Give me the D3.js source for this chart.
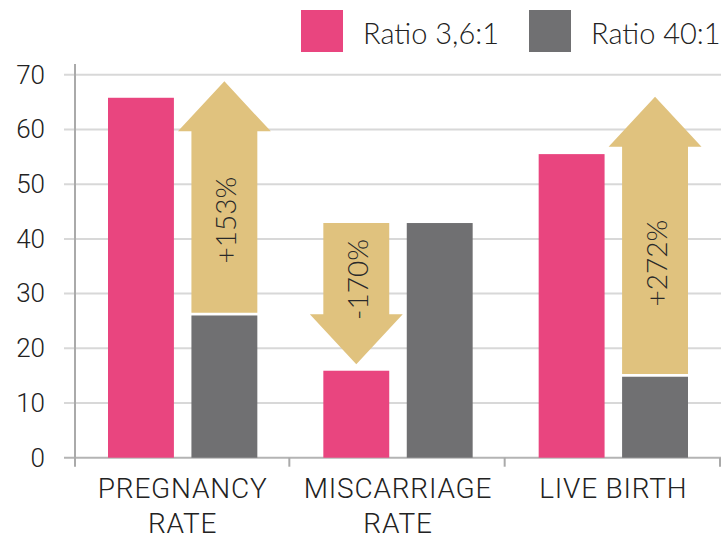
<!DOCTYPE html>
<html>
<head>
<meta charset="utf-8">
<script src="https://cdn.jsdelivr.net/npm/d3@7"></script>
<style>
  body { margin: 0; background: #fff; }
  svg { display: block; }
</style>
</head>
<body>
<script>
// Data
const categories = ["PREGNANCY RATE", "MISCARRIAGE RATE", "LIVE BIRTH"];
const categoryLines = [["PREGNANCY", "RATE"], ["MISCARRIAGE", "RATE"], ["LIVE BIRTH"]];
const series = ["Ratio 3,6:1", "Ratio 40:1"];
const ratio36 = [65.8, 15.9, 55.5];
const ratio40 = [26, 42.9, 14.8];
const yTicks = [0, 10, 20, 30, 40, 50, 60, 70];

// change arrows: drawn over one of the bars, from value -> tip value
const arrowSeries = ["Ratio 40:1", "Ratio 3,6:1", "Ratio 40:1"];
const arrowFrom = [26.5, 42.9, 15.3];
const arrowTo = [68.8, 17.1, 66];
const arrowLabels = ["+153%", "-170%", "+272%"];

const colors = { "Ratio 3,6:1": "#e9457f", "Ratio 40:1": "#707072" };
const arrowColor = "#e0c27e";

const width = 721, height = 536;
const plotLeft = 75, plotRight = 721, plotTop = 74.8, plotBottom = 457.7;

const svg = d3.select("body").append("svg")
  .attr("width", width)
  .attr("height", height);

const y = d3.scaleLinear().domain([0, 70]).range([plotBottom, plotTop]);

const x0 = d3.scaleBand().domain(categories).range([plotLeft, plotRight]);
const x1 = d3.scaleBand().domain(series)
  .range([33, x0.bandwidth() - 33])
  .paddingInner(0.21);

// gridlines
svg.append("g")
  .selectAll("line")
  .data(yTicks)
  .join("line")
  .attr("x1", 64).attr("x2", plotRight)
  .attr("y1", d => y(d)).attr("y2", d => y(d))
  .attr("stroke", d => d === 0 ? "#b4b4b4" : "#d8d8d8")
  .attr("stroke-width", 2);

// y tick labels
const yAxis = svg.append("g")
  .attr("transform", `translate(${plotLeft},0)`)
  .call(d3.axisLeft(y).tickValues(yTicks).tickSize(0).tickPadding(30));
yAxis.select(".domain").remove();
yAxis.selectAll("text")
  .attr("font-family", "Roboto, sans-serif")
  .attr("font-weight", 300)
  .attr("font-size", 26)
  .attr("fill", "#222");

// vertical axis line
svg.append("line")
  .attr("x1", plotLeft).attr("x2", plotLeft)
  .attr("y1", 64).attr("y2", plotBottom + 9)
  .attr("stroke", "#aaa").attr("stroke-width", 2);

// category boundary ticks
const bounds = categories.map(c => x0(c)).concat([x0(categories[2]) + x0.bandwidth()]);
svg.append("g")
  .selectAll("line")
  .data(bounds.slice(1))
  .join("line")
  .attr("x1", d => d - 1).attr("x2", d => d - 1)
  .attr("y1", plotBottom).attr("y2", plotBottom + 9)
  .attr("stroke", "#aaa").attr("stroke-width", 2);

// bars
const rows = categories.map((c, i) => ({ cat: c, values: [ratio36[i], ratio40[i]] }));
const groups = svg.append("g")
  .selectAll("g")
  .data(rows)
  .join("g")
  .attr("transform", d => `translate(${x0(d.cat)},0)`);

groups.selectAll("rect")
  .data(d => series.map((s, j) => ({ s, v: d.values[j] })))
  .join("rect")
  .attr("x", d => x1(d.s))
  .attr("width", x1.bandwidth())
  .attr("y", d => y(d.v))
  .attr("height", d => plotBottom - y(d.v))
  .attr("fill", d => colors[d.s]);

// arrows
const headLen = 50, headOver = 13.5;
const arrows = categories.map((c, i) => ({
  cat: c, s: arrowSeries[i], from: arrowFrom[i], to: arrowTo[i], label: arrowLabels[i]
}));

arrows.forEach(a => {
  const xl = x0(a.cat) + x1(a.s);
  const xr = xl + x1.bandwidth();
  const xc = (xl + xr) / 2;
  const y0 = y(a.from), yt = y(a.to);
  const dir = yt < y0 ? 1 : -1; // 1 = up
  const yb = yt + dir * headLen;
  const path = d3.path();
  path.moveTo(xl, y0);
  path.lineTo(xl, yb);
  path.lineTo(xl - headOver, yb);
  path.lineTo(xc, yt);
  path.lineTo(xr + headOver, yb);
  path.lineTo(xr, yb);
  path.lineTo(xr, y0);
  path.closePath();
  svg.append("path").attr("d", path.toString()).attr("fill", arrowColor);

  const ly = y0 + (yt - y0) * 0.4;
  svg.append("text")
    .attr("transform", `translate(${xc + 1},${ly}) rotate(-90)`)
    .attr("text-anchor", "middle")
    .attr("dominant-baseline", "central")
    .attr("font-family", "Lato, sans-serif")
    .attr("font-weight", 300)
    .attr("font-size", 28)
    .attr("fill", "#2a2a2a")
    .text(a.label);
});

// x category labels
const xLab = svg.append("g")
  .selectAll("text")
  .data(categories)
  .join("text")
  .attr("x", d => x0(d) + x0.bandwidth() / 2)
  .attr("y", plotBottom + 40)
  .attr("text-anchor", "middle")
  .attr("font-family", "Roboto, sans-serif")
  .attr("font-weight", 300)
  .attr("font-size", 28)
  .attr("letter-spacing", 0.8)
  .attr("fill", "#222");
xLab.selectAll("tspan")
  .data((d, i) => categoryLines[i])
  .join("tspan")
  .attr("x", function() { return this.parentNode.getAttribute("x"); })
  .attr("dy", (d, i) => i === 0 ? 0 : 35)
  .text(d => d);

// legend
const legendX = [301, 529];
const legend = svg.append("g")
  .selectAll("g")
  .data(series)
  .join("g")
  .attr("transform", (d, i) => `translate(${legendX[i]},10)`);
legend.append("rect")
  .attr("width", 42).attr("height", 42)
  .attr("fill", d => colors[d]);
legend.append("text")
  .attr("x", 62).attr("y", 33.5)
  .attr("font-family", "Lato, sans-serif")
  .attr("font-weight", 300)
  .attr("font-size", 29)
  .attr("fill", "#222")
  .text(d => d);
</script>
</body>
</html>
